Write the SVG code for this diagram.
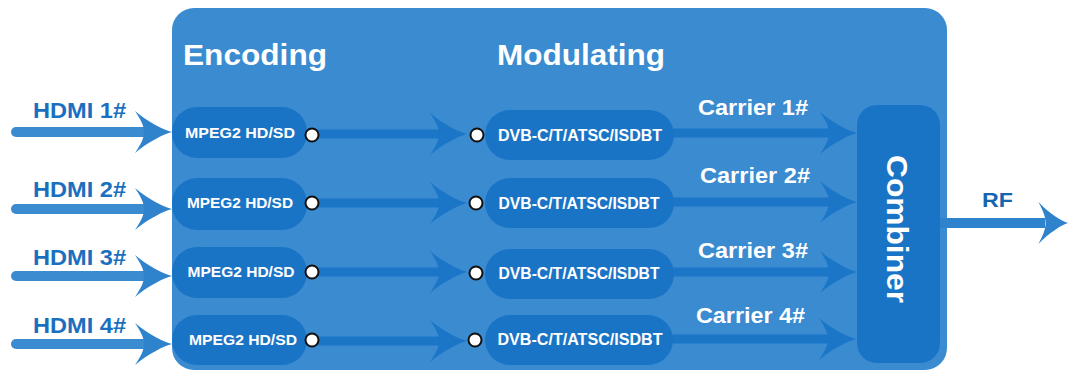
<svg xmlns="http://www.w3.org/2000/svg" width="1068" height="372" viewBox="0 0 1068 372">
<style>
.t{font-family:"Liberation Sans",Arial,sans-serif;font-weight:bold}
.w{fill:#ffffff}
.hd{fill:#1a6fbe;font-size:22px}
.box{fill:#1a74c6}
.dot{fill:#ffffff;stroke:#111111;stroke-width:2}
.ln{stroke:#1b76c7;stroke-width:9;fill:none}
.lo{stroke:#3a8bd0;stroke-width:10;fill:none;stroke-linecap:round}
.ah{fill:#1b76c7}
.aho{fill:#2f82cc}
</style>
<defs>
<path id="head" d="M0,0 C-8,-2 -24,-10 -37,-21 C-31,-12 -28,-6 -28,0 C-28,6 -31,12 -37,21 C-24,10 -8,2 0,0 Z"/>
</defs>
<g id="panel">
<rect x="172" y="8" width="775" height="362" rx="22" fill="#3a8bd0"/>
<text class="t w" x="183" y="65" font-size="30" textLength="144" lengthAdjust="spacingAndGlyphs">Encoding</text>
<text class="t w" x="497" y="65" font-size="30" textLength="168" lengthAdjust="spacingAndGlyphs">Modulating</text>
</g>
<g id="connectors">
<line class="lo" x1="16" y1="132" x2="150" y2="132"/>
<line class="lo" x1="16" y1="209" x2="150" y2="209"/>
<line class="lo" x1="16" y1="276" x2="150" y2="276"/>
<line class="lo" x1="16" y1="344" x2="150" y2="344"/>
<use href="#head" class="aho" transform="translate(172,132)"/>
<use href="#head" class="aho" transform="translate(172,209)"/>
<use href="#head" class="aho" transform="translate(172,276)"/>
<use href="#head" class="aho" transform="translate(172,344)"/>
<line class="ln" x1="312" y1="134" x2="445" y2="134"/>
<line class="ln" x1="312" y1="203" x2="445" y2="203"/>
<line class="ln" x1="312" y1="272" x2="445" y2="272"/>
<line class="ln" x1="312" y1="341" x2="445" y2="341"/>
<use href="#head" class="ah" transform="translate(467,134)"/>
<use href="#head" class="ah" transform="translate(467,203)"/>
<use href="#head" class="ah" transform="translate(467,272)"/>
<use href="#head" class="ah" transform="translate(467,341)"/>
<line class="ln" x1="670" y1="133" x2="835" y2="133"/>
<line class="ln" x1="670" y1="202" x2="835" y2="202"/>
<line class="ln" x1="670" y1="272" x2="835" y2="272"/>
<line class="ln" x1="670" y1="339" x2="835" y2="339"/>
<use href="#head" class="ah" transform="translate(857,133)"/>
<use href="#head" class="ah" transform="translate(857,202)"/>
<use href="#head" class="ah" transform="translate(857,272)"/>
<use href="#head" class="ah" transform="translate(856,339)"/>
<line x1="937" y1="223" x2="1045" y2="223" stroke="#2f82cc" stroke-width="10"/>
<use href="#head" class="aho" transform="translate(1068,223) scale(0.8,1)"/>
<text class="t hd" x="33" y="118" textLength="93" lengthAdjust="spacingAndGlyphs">HDMI 1#</text>
<text class="t hd" x="33" y="197" textLength="93" lengthAdjust="spacingAndGlyphs">HDMI 2#</text>
<text class="t hd" x="33" y="265" textLength="93" lengthAdjust="spacingAndGlyphs">HDMI 3#</text>
<text class="t hd" x="33" y="333" textLength="93" lengthAdjust="spacingAndGlyphs">HDMI 4#</text>
<text class="t w" x="698" y="115" font-size="22" textLength="110" lengthAdjust="spacingAndGlyphs">Carrier 1#</text>
<text class="t w" x="700" y="183" font-size="22" textLength="110" lengthAdjust="spacingAndGlyphs">Carrier 2#</text>
<text class="t w" x="698" y="258" font-size="22" textLength="110" lengthAdjust="spacingAndGlyphs">Carrier 3#</text>
<text class="t w" x="696" y="323" font-size="22" textLength="109" lengthAdjust="spacingAndGlyphs">Carrier 4#</text>
<text class="t" x="982" y="207" font-size="20" fill="#1565b0" textLength="31" lengthAdjust="spacingAndGlyphs">RF</text>
</g>
<g id="enc1"><rect class="box" x="172" y="107" width="135" height="51" rx="25"/><text class="t w" x="240" y="138" font-size="15" text-anchor="middle" textLength="110" lengthAdjust="spacingAndGlyphs">MPEG2 HD/SD</text><circle class="dot" cx="312" cy="135" r="6.5"/></g>
<g id="enc2"><rect class="box" x="172" y="178" width="135" height="52" rx="25"/><text class="t w" x="240" y="208" font-size="15" text-anchor="middle" textLength="106" lengthAdjust="spacingAndGlyphs">MPEG2 HD/SD</text><circle class="dot" cx="312" cy="203" r="6.5"/></g>
<g id="enc3"><rect class="box" x="172" y="247" width="135" height="51" rx="25"/><text class="t w" x="241" y="277" font-size="15" text-anchor="middle" textLength="107" lengthAdjust="spacingAndGlyphs">MPEG2 HD/SD</text><circle class="dot" cx="312" cy="272" r="6.5"/></g>
<g id="enc4"><rect class="box" x="172" y="315" width="135" height="50" rx="25"/><text class="t w" x="243" y="345" font-size="15" text-anchor="middle" textLength="108" lengthAdjust="spacingAndGlyphs">MPEG2 HD/SD</text><circle class="dot" cx="312" cy="340" r="6.5"/></g>
<g id="mod1"><rect class="box" x="485" y="110" width="189" height="50" rx="25"/><text class="t w" x="580" y="141" font-size="16" text-anchor="middle" textLength="164" lengthAdjust="spacingAndGlyphs">DVB-C/T/ATSC/ISDBT</text><circle class="dot" cx="477" cy="135" r="6.5"/></g>
<g id="mod2"><rect class="box" x="485" y="178" width="189" height="50" rx="25"/><text class="t w" x="579" y="209" font-size="16" text-anchor="middle" textLength="161" lengthAdjust="spacingAndGlyphs">DVB-C/T/ATSC/ISDBT</text><circle class="dot" cx="476" cy="203" r="6.5"/></g>
<g id="mod3"><rect class="box" x="485" y="249" width="189" height="50" rx="25"/><text class="t w" x="579" y="279" font-size="16" text-anchor="middle" textLength="161" lengthAdjust="spacingAndGlyphs">DVB-C/T/ATSC/ISDBT</text><circle class="dot" cx="476" cy="273" r="6.5"/></g>
<g id="mod4"><rect class="box" x="485" y="315" width="188" height="50" rx="25"/><text class="t w" x="580" y="345" font-size="16" text-anchor="middle" textLength="165" lengthAdjust="spacingAndGlyphs">DVB-C/T/ATSC/ISDBT</text><circle class="dot" cx="475" cy="340" r="6.5"/></g>
<g id="combiner"><rect class="box" x="857" y="105" width="83" height="258" rx="20"/><text class="t w" transform="translate(887,229) rotate(90)" font-size="29" text-anchor="middle" textLength="148" lengthAdjust="spacingAndGlyphs">Combiner</text></g>
</svg>
